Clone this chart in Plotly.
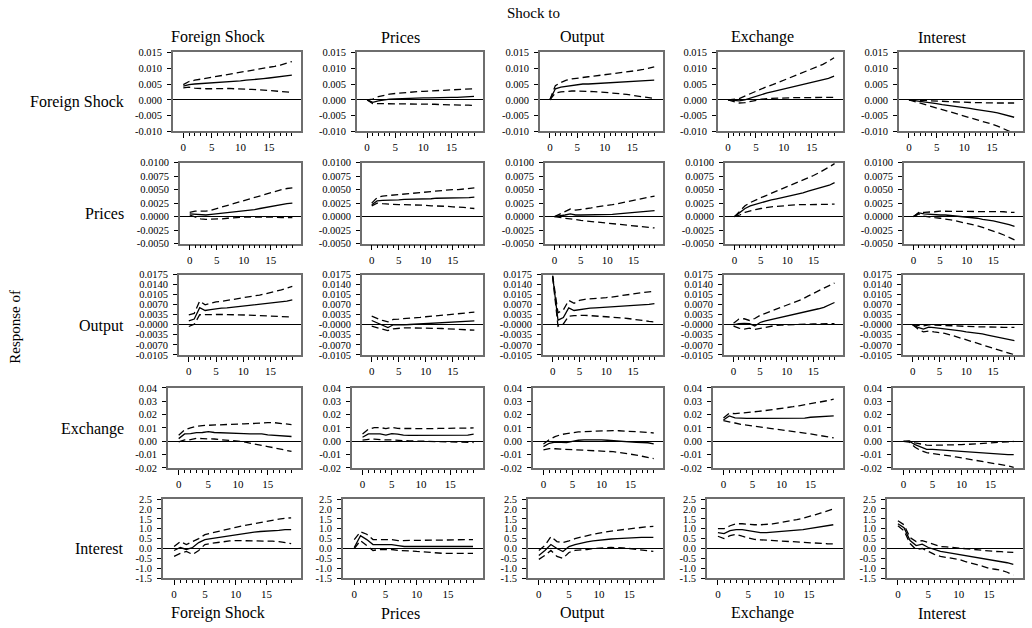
import plotly.graph_objects as go

# ---------------- data ----------------
periods = list(range(20))
shock_names = ["Foreign Shock", "Prices", "Output", "Exchange", "Interest"]
response_names = ["Foreign Shock", "Prices", "Output", "Exchange", "Interest"]

# y-axis tick labels per response row
row1_tickvals = [-0.010, -0.005, 0.000, 0.005, 0.010, 0.015]
row1_ticktext = ["-0.010", "-0.005", "0.000", "0.005", "0.010", "0.015"]
row2_tickvals = [-0.005, -0.0025, 0.0, 0.0025, 0.005, 0.0075, 0.010]
row2_ticktext = ["-0.0050", "-0.0025", "0.0000", "0.0025", "0.0050", "0.0075", "0.0100"]
row3_tickvals = [-0.0105, -0.0070, -0.0035, 0.0, 0.0035, 0.0070, 0.0105, 0.0140, 0.0175]
row3_ticktext = ["-0.0105", "-0.0070", "-0.0035", "-0.0000", "0.0035", "0.0070", "0.0105", "0.0140", "0.0175"]
row4_tickvals = [-0.02, -0.01, 0.0, 0.01, 0.02, 0.03, 0.04]
row4_ticktext = ["-0.02", "-0.01", "0.00", "0.01", "0.02", "0.03", "0.04"]
row5_tickvals = [-1.5, -1.0, -0.5, 0.0, 0.5, 1.0, 1.5, 2.0, 2.5]
row5_ticktext = ["-1.5", "-1.0", "-0.5", "0.0", "0.5", "1.0", "1.5", "2.0", "2.5"]
x_ticklabels = [0, 5, 10, 15]

# ---- Response of Foreign Shock ----
fs_fs_mid = [0.0043,0.0048,0.0050,0.0051,0.0052,0.0053,0.0055,0.0056,0.0057,0.0059,0.0060,0.0062,0.0063,0.0065,0.0067,0.0069,0.0071,0.0073,0.0075,0.0078]
fs_fs_hi = [0.0048,0.0058,0.0062,0.0065,0.0068,0.0071,0.0074,0.0077,0.0080,0.0083,0.0086,0.0089,0.0092,0.0095,0.0098,0.0102,0.0106,0.0110,0.0115,0.0121]
fs_fs_lo = [0.0038,0.0040,0.0037,0.0035,0.0035,0.0035,0.0036,0.0036,0.0036,0.0035,0.0035,0.0034,0.0033,0.0032,0.0031,0.0030,0.0029,0.0028,0.0026,0.0024]
fs_p_mid = [0.0000,-0.0008,-0.0003,0.0000,0.0002,0.0003,0.0004,0.0004,0.0005,0.0005,0.0006,0.0006,0.0007,0.0007,0.0008,0.0008,0.0008,0.0009,0.0010,0.0011]
fs_p_hi = [0.0000,0.0002,0.0010,0.0015,0.0018,0.0020,0.0022,0.0024,0.0025,0.0026,0.0027,0.0028,0.0029,0.0030,0.0031,0.0032,0.0033,0.0034,0.0034,0.0035]
fs_p_lo = [0.0000,-0.0012,-0.0012,-0.0012,-0.0012,-0.0012,-0.0012,-0.0012,-0.0013,-0.0013,-0.0013,-0.0014,-0.0014,-0.0015,-0.0015,-0.0016,-0.0016,-0.0017,-0.0017,-0.0018]
fs_y_mid = [0.0000,0.0035,0.0040,0.0043,0.0046,0.0048,0.0050,0.0050,0.0051,0.0052,0.0053,0.0054,0.0055,0.0056,0.0057,0.0058,0.0059,0.0060,0.0061,0.0062]
fs_y_hi = [0.0000,0.0045,0.0055,0.0062,0.0066,0.0069,0.0071,0.0073,0.0075,0.0077,0.0079,0.0081,0.0083,0.0085,0.0087,0.0090,0.0093,0.0096,0.0100,0.0104]
fs_y_lo = [0.0000,0.0022,0.0025,0.0027,0.0028,0.0028,0.0028,0.0027,0.0026,0.0025,0.0024,0.0023,0.0021,0.0019,0.0017,0.0015,0.0013,0.0010,0.0007,0.0004]
fs_e_mid = [0.0000,-0.0002,-0.0003,0.0000,0.0006,0.0012,0.0018,0.0022,0.0026,0.0030,0.0034,0.0038,0.0042,0.0046,0.0050,0.0054,0.0058,0.0063,0.0068,0.0075]
fs_e_hi = [0.0000,0.0001,0.0004,0.0012,0.0020,0.0028,0.0035,0.0042,0.0048,0.0055,0.0062,0.0068,0.0075,0.0082,0.0089,0.0096,0.0104,0.0112,0.0122,0.0133]
fs_e_lo = [0.0000,-0.0005,-0.0010,-0.0009,-0.0005,-0.0002,0.0002,0.0004,0.0005,0.0006,0.0006,0.0006,0.0007,0.0007,0.0007,0.0007,0.0007,0.0008,0.0008,0.0008]
fs_i_mid = [0.0000,-0.0002,-0.0004,-0.0006,-0.0009,-0.0012,-0.0015,-0.0017,-0.0019,-0.0021,-0.0024,-0.0027,-0.0030,-0.0032,-0.0035,-0.0038,-0.0041,-0.0045,-0.0049,-0.0055]
fs_i_hi = [0.0000,0.0000,-0.0001,-0.0002,-0.0003,-0.0004,-0.0005,-0.0006,-0.0006,-0.0007,-0.0008,-0.0008,-0.0009,-0.0009,-0.0010,-0.0010,-0.0010,-0.0010,-0.0010,-0.0010]
fs_i_lo = [0.0000,-0.0005,-0.0010,-0.0015,-0.0020,-0.0025,-0.0030,-0.0035,-0.0040,-0.0045,-0.0050,-0.0055,-0.0060,-0.0065,-0.0071,-0.0077,-0.0083,-0.0090,-0.0098,-0.0106]

# ---- Response of Prices ----
p_fs_mid = [0.0005,0.0004,0.0003,0.0003,0.0004,0.0005,0.0006,0.0007,0.0008,0.0010,0.0011,0.0012,0.0013,0.0015,0.0017,0.0018,0.0020,0.0022,0.0024,0.0025]
p_fs_hi = [0.0008,0.0010,0.0010,0.0010,0.0012,0.0015,0.0018,0.0021,0.0024,0.0027,0.0030,0.0033,0.0036,0.0039,0.0042,0.0045,0.0048,0.0050,0.0052,0.0053]
p_fs_lo = [0.0003,-0.0001,-0.0004,-0.0005,-0.0005,-0.0005,-0.0004,-0.0003,-0.0002,-0.0002,-0.0001,-0.0001,-0.0001,0.0000,0.0000,-0.0001,-0.0001,-0.0002,-0.0002,-0.0002]
p_p_mid = [0.0022,0.0029,0.0030,0.0030,0.0031,0.0031,0.0032,0.0032,0.0032,0.0033,0.0033,0.0033,0.0034,0.0034,0.0034,0.0034,0.0035,0.0035,0.0035,0.0036]
p_p_hi = [0.0025,0.0035,0.0038,0.0039,0.0040,0.0041,0.0042,0.0043,0.0044,0.0044,0.0045,0.0046,0.0047,0.0048,0.0049,0.0050,0.0050,0.0051,0.0052,0.0053]
p_p_lo = [0.0020,0.0025,0.0024,0.0023,0.0022,0.0022,0.0022,0.0022,0.0021,0.0021,0.0021,0.0020,0.0020,0.0019,0.0019,0.0018,0.0018,0.0017,0.0016,0.0015]
p_y_mid = [0.0000,0.0001,0.0003,0.0005,0.0003,0.0003,0.0003,0.0003,0.0003,0.0003,0.0003,0.0004,0.0005,0.0006,0.0007,0.0008,0.0009,0.0010,0.0010,0.0011]
p_y_hi = [0.0000,0.0005,0.0010,0.0014,0.0012,0.0013,0.0015,0.0016,0.0018,0.0019,0.0020,0.0022,0.0024,0.0026,0.0028,0.0030,0.0032,0.0034,0.0036,0.0038]
p_y_lo = [0.0000,-0.0002,-0.0003,-0.0004,-0.0006,-0.0007,-0.0008,-0.0009,-0.0010,-0.0011,-0.0012,-0.0013,-0.0014,-0.0015,-0.0016,-0.0017,-0.0018,-0.0019,-0.0020,-0.0021]
p_e_mid = [0.0000,0.0008,0.0015,0.0020,0.0023,0.0025,0.0028,0.0031,0.0033,0.0035,0.0037,0.0040,0.0042,0.0044,0.0047,0.0050,0.0053,0.0055,0.0058,0.0063]
p_e_hi = [0.0000,0.0011,0.0020,0.0026,0.0031,0.0035,0.0039,0.0043,0.0047,0.0051,0.0055,0.0059,0.0063,0.0067,0.0071,0.0076,0.0081,0.0086,0.0092,0.0098]
p_e_lo = [0.0000,0.0003,0.0008,0.0011,0.0013,0.0015,0.0017,0.0018,0.0019,0.0020,0.0021,0.0021,0.0022,0.0022,0.0022,0.0022,0.0023,0.0023,0.0023,0.0023]
p_i_mid = [0.0000,0.0007,0.0005,0.0004,0.0004,0.0003,0.0003,0.0002,0.0001,0.0001,0.0000,-0.0001,-0.0003,-0.0005,-0.0006,-0.0008,-0.0010,-0.0012,-0.0015,-0.0018]
p_i_hi = [0.0000,0.0008,0.0008,0.0008,0.0009,0.0010,0.0010,0.0010,0.0010,0.0010,0.0010,0.0010,0.0010,0.0010,0.0010,0.0010,0.0009,0.0009,0.0008,0.0008]
p_i_lo = [0.0000,0.0005,0.0001,-0.0001,-0.0002,-0.0003,-0.0004,-0.0006,-0.0008,-0.0010,-0.0012,-0.0014,-0.0017,-0.0020,-0.0023,-0.0026,-0.0030,-0.0034,-0.0038,-0.0043]

# ---- Response of Output ----
y_fs_mid = [0.0014,0.0020,0.0060,0.0050,0.0053,0.0056,0.0058,0.0059,0.0061,0.0063,0.0065,0.0067,0.0069,0.0071,0.0073,0.0075,0.0077,0.0080,0.0083,0.0087]
y_fs_hi = [0.0035,0.0040,0.0083,0.0070,0.0075,0.0080,0.0082,0.0085,0.0088,0.0090,0.0093,0.0096,0.0100,0.0104,0.0108,0.0112,0.0117,0.0122,0.0128,0.0134]
y_fs_lo = [-0.0006,0.0002,0.0035,0.0036,0.0036,0.0036,0.0036,0.0036,0.0035,0.0035,0.0034,0.0034,0.0033,0.0032,0.0031,0.0030,0.0029,0.0028,0.0028,0.0027]
y_p_mid = [0.0015,0.0007,-0.0003,-0.0010,0.0000,-0.0001,0.0000,0.0001,0.0002,0.0003,0.0004,0.0005,0.0007,0.0009,0.0010,0.0011,0.0012,0.0013,0.0014,0.0014]
y_p_hi = [0.0030,0.0022,0.0015,0.0010,0.0019,0.0020,0.0021,0.0023,0.0025,0.0026,0.0028,0.0030,0.0032,0.0034,0.0036,0.0037,0.0039,0.0040,0.0042,0.0044]
y_p_lo = [-0.0005,-0.0010,-0.0015,-0.0020,-0.0014,-0.0012,-0.0011,-0.0011,-0.0011,-0.0011,-0.0011,-0.0012,-0.0012,-0.0013,-0.0014,-0.0015,-0.0016,-0.0017,-0.0018,-0.0019]
y_y_mid = [0.0170,0.0016,0.0025,0.0059,0.0050,0.0053,0.0056,0.0058,0.0059,0.0060,0.0062,0.0063,0.0064,0.0065,0.0066,0.0067,0.0068,0.0069,0.0071,0.0074]
y_y_hi = [0.0172,0.0042,0.0052,0.0085,0.0075,0.0085,0.0089,0.0090,0.0091,0.0093,0.0095,0.0097,0.0100,0.0103,0.0106,0.0109,0.0111,0.0113,0.0115,0.0117]
y_y_lo = [0.0168,-0.0005,0.0003,0.0030,0.0032,0.0033,0.0033,0.0032,0.0031,0.0030,0.0029,0.0028,0.0026,0.0024,0.0022,0.0019,0.0016,0.0014,0.0012,0.0010]
y_e_mid = [0.0000,0.0004,0.0005,0.0004,-0.0004,0.0008,0.0014,0.0018,0.0022,0.0027,0.0031,0.0035,0.0038,0.0042,0.0047,0.0052,0.0056,0.0061,0.0069,0.0078]
y_e_hi = [0.0005,0.0020,0.0021,0.0015,0.0022,0.0033,0.0040,0.0047,0.0054,0.0061,0.0068,0.0075,0.0082,0.0090,0.0100,0.0110,0.0120,0.0128,0.0137,0.0146]
y_e_lo = [-0.0005,-0.0012,-0.0015,-0.0012,-0.0016,-0.0012,-0.0008,-0.0005,-0.0002,-0.0001,0.0000,0.0001,0.0001,0.0002,0.0002,0.0003,0.0003,0.0004,0.0004,0.0004]
y_i_mid = [0.0000,-0.0009,-0.0015,-0.0008,-0.0010,-0.0012,-0.0013,-0.0015,-0.0018,-0.0021,-0.0025,-0.0027,-0.0029,-0.0032,-0.0036,-0.0040,-0.0045,-0.0049,-0.0051,-0.0055]
y_i_hi = [0.0000,-0.0002,-0.0004,0.0000,-0.0001,-0.0002,-0.0003,-0.0004,-0.0005,-0.0005,-0.0006,-0.0006,-0.0007,-0.0007,-0.0008,-0.0008,-0.0009,-0.0009,-0.0009,-0.0009]
y_i_lo = [0.0000,-0.0015,-0.0025,-0.0022,-0.0025,-0.0027,-0.0030,-0.0035,-0.0041,-0.0047,-0.0053,-0.0059,-0.0065,-0.0071,-0.0077,-0.0083,-0.0089,-0.0095,-0.0100,-0.0105]

# ---- Response of Exchange ----
e_fs_mid = [0.0020,0.0055,0.0057,0.0065,0.0066,0.0072,0.0066,0.0065,0.0065,0.0065,0.0064,0.0058,0.0056,0.0055,0.0055,0.0048,0.0046,0.0045,0.0040,0.0036]
e_fs_hi = [0.0045,0.0085,0.0100,0.0112,0.0118,0.0120,0.0124,0.0128,0.0129,0.0130,0.0130,0.0131,0.0132,0.0136,0.0140,0.0140,0.0140,0.0136,0.0132,0.0125]
e_fs_lo = [-0.0005,0.0010,0.0012,0.0022,0.0020,0.0020,0.0017,0.0012,0.0010,0.0006,0.0002,-0.0005,-0.0015,-0.0022,-0.0030,-0.0040,-0.0048,-0.0056,-0.0066,-0.0076]
e_p_mid = [0.0030,0.0055,0.0056,0.0055,0.0046,0.0058,0.0054,0.0046,0.0045,0.0045,0.0045,0.0045,0.0045,0.0045,0.0045,0.0045,0.0045,0.0045,0.0046,0.0054]
e_p_hi = [0.0055,0.0090,0.0103,0.0103,0.0095,0.0104,0.0096,0.0095,0.0095,0.0095,0.0095,0.0095,0.0095,0.0096,0.0097,0.0098,0.0099,0.0100,0.0100,0.0100]
e_p_lo = [0.0008,0.0015,0.0016,0.0012,0.0010,0.0011,0.0006,0.0005,0.0003,0.0002,0.0001,0.0000,-0.0002,-0.0004,-0.0006,-0.0008,-0.0009,-0.0010,-0.0010,-0.0009]
e_y_mid = [-0.0040,-0.0015,-0.0006,-0.0005,-0.0009,0.0000,0.0008,0.0010,0.0011,0.0011,0.0011,0.0008,0.0004,0.0000,-0.0003,-0.0006,-0.0008,-0.0009,-0.0011,-0.0020]
e_y_hi = [-0.0020,0.0012,0.0035,0.0050,0.0058,0.0065,0.0070,0.0073,0.0075,0.0076,0.0078,0.0080,0.0080,0.0079,0.0077,0.0076,0.0074,0.0072,0.0067,0.0062]
e_y_lo = [-0.0065,-0.0055,-0.0056,-0.0058,-0.0060,-0.0062,-0.0063,-0.0065,-0.0067,-0.0069,-0.0071,-0.0074,-0.0078,-0.0083,-0.0088,-0.0095,-0.0103,-0.0112,-0.0121,-0.0130]
e_e_mid = [0.0160,0.0190,0.0175,0.0172,0.0172,0.0172,0.0172,0.0172,0.0172,0.0172,0.0172,0.0172,0.0172,0.0172,0.0173,0.0180,0.0182,0.0184,0.0188,0.0190]
e_e_hi = [0.0175,0.0210,0.0207,0.0210,0.0215,0.0220,0.0224,0.0229,0.0234,0.0240,0.0246,0.0252,0.0259,0.0266,0.0273,0.0280,0.0288,0.0296,0.0305,0.0316]
e_e_lo = [0.0155,0.0148,0.0137,0.0127,0.0120,0.0114,0.0109,0.0103,0.0097,0.0091,0.0086,0.0080,0.0074,0.0068,0.0061,0.0055,0.0049,0.0042,0.0034,0.0026]
e_i_mid = [0.0000,0.0000,-0.0025,-0.0045,-0.0060,-0.0060,-0.0063,-0.0068,-0.0072,-0.0075,-0.0078,-0.0080,-0.0082,-0.0085,-0.0088,-0.0092,-0.0096,-0.0100,-0.0100,-0.0100]
e_i_hi = [0.0000,0.0002,-0.0012,-0.0022,-0.0028,-0.0030,-0.0030,-0.0030,-0.0029,-0.0027,-0.0025,-0.0023,-0.0021,-0.0019,-0.0017,-0.0014,-0.0011,-0.0007,-0.0004,-0.0001]
e_i_lo = [0.0000,-0.0006,-0.0045,-0.0070,-0.0085,-0.0090,-0.0097,-0.0104,-0.0110,-0.0117,-0.0124,-0.0131,-0.0138,-0.0145,-0.0153,-0.0160,-0.0168,-0.0176,-0.0184,-0.0195]

# ---- Response of Interest ----
i_fs_mid = [-0.10,0.05,-0.05,0.05,0.30,0.45,0.50,0.55,0.60,0.65,0.70,0.75,0.80,0.83,0.86,0.87,0.88,0.92,0.95,0.95]
i_fs_hi = [0.10,0.35,0.20,0.35,0.50,0.70,0.78,0.86,0.93,1.00,1.07,1.14,1.20,1.27,1.33,1.38,1.43,1.48,1.53,1.55]
i_fs_lo = [-0.40,-0.25,-0.15,-0.30,-0.10,0.20,0.26,0.31,0.35,0.38,0.40,0.40,0.40,0.40,0.40,0.39,0.37,0.35,0.31,0.25]
i_p_mid = [0.05,0.65,0.45,0.20,0.20,0.20,0.20,0.15,0.10,0.10,0.10,0.10,0.10,0.10,0.10,0.10,0.10,0.10,0.10,0.10]
i_p_hi = [0.45,0.85,0.72,0.45,0.45,0.45,0.45,0.40,0.40,0.40,0.40,0.40,0.40,0.41,0.42,0.43,0.44,0.45,0.45,0.45]
i_p_lo = [0.00,0.40,0.15,-0.10,-0.05,-0.05,-0.05,-0.10,-0.10,-0.12,-0.15,-0.18,-0.20,-0.22,-0.24,-0.25,-0.25,-0.25,-0.25,-0.25]
i_y_mid = [-0.35,-0.10,0.20,0.00,-0.15,0.10,0.20,0.28,0.34,0.39,0.43,0.45,0.48,0.50,0.52,0.55,0.56,0.56,0.56,0.56]
i_y_hi = [-0.10,0.15,0.60,0.35,0.30,0.38,0.50,0.58,0.65,0.72,0.78,0.84,0.88,0.92,0.96,1.00,1.04,1.08,1.10,1.12]
i_y_lo = [-0.55,-0.35,-0.10,-0.40,-0.50,-0.20,-0.10,-0.08,-0.05,0.00,0.03,0.04,0.05,0.05,0.03,0.00,-0.03,-0.07,-0.10,-0.15]
i_e_mid = [0.80,0.75,0.90,0.95,0.95,0.90,0.85,0.80,0.80,0.82,0.85,0.87,0.89,0.92,0.95,1.00,1.05,1.08,1.12,1.20]
i_e_hi = [1.00,1.00,1.15,1.25,1.25,1.22,1.20,1.20,1.21,1.24,1.29,1.34,1.40,1.46,1.53,1.60,1.70,1.80,1.90,2.00]
i_e_lo = [0.62,0.50,0.65,0.72,0.62,0.52,0.46,0.44,0.42,0.40,0.37,0.35,0.33,0.31,0.29,0.27,0.26,0.25,0.24,0.23]
i_i_mid = [1.25,1.05,0.40,0.15,0.22,0.05,-0.05,-0.15,-0.20,-0.25,-0.30,-0.35,-0.40,-0.45,-0.50,-0.55,-0.60,-0.65,-0.72,-0.80]
i_i_hi = [1.40,1.20,0.55,0.35,0.40,0.30,0.18,0.10,0.08,0.05,0.03,0.00,-0.03,-0.07,-0.10,-0.15,-0.15,-0.16,-0.18,-0.20]
i_i_lo = [1.15,0.90,0.25,-0.05,0.00,-0.15,-0.30,-0.40,-0.45,-0.50,-0.55,-0.65,-0.75,-0.82,-0.90,-1.00,-1.05,-1.10,-1.20,-1.35]

panels = [
    [(fs_fs_mid, fs_fs_lo, fs_fs_hi), (fs_p_mid, fs_p_lo, fs_p_hi), (fs_y_mid, fs_y_lo, fs_y_hi), (fs_e_mid, fs_e_lo, fs_e_hi), (fs_i_mid, fs_i_lo, fs_i_hi)],
    [(p_fs_mid, p_fs_lo, p_fs_hi), (p_p_mid, p_p_lo, p_p_hi), (p_y_mid, p_y_lo, p_y_hi), (p_e_mid, p_e_lo, p_e_hi), (p_i_mid, p_i_lo, p_i_hi)],
    [(y_fs_mid, y_fs_lo, y_fs_hi), (y_p_mid, y_p_lo, y_p_hi), (y_y_mid, y_y_lo, y_y_hi), (y_e_mid, y_e_lo, y_e_hi), (y_i_mid, y_i_lo, y_i_hi)],
    [(e_fs_mid, e_fs_lo, e_fs_hi), (e_p_mid, e_p_lo, e_p_hi), (e_y_mid, e_y_lo, e_y_hi), (e_e_mid, e_e_lo, e_e_hi), (e_i_mid, e_i_lo, e_i_hi)],
    [(i_fs_mid, i_fs_lo, i_fs_hi), (i_p_mid, i_p_lo, i_p_hi), (i_y_mid, i_y_lo, i_y_hi), (i_e_mid, i_e_lo, i_e_hi), (i_i_mid, i_i_lo, i_i_hi)],
]
row_ticks = [
    (row1_tickvals, row1_ticktext),
    (row2_tickvals, row2_ticktext),
    (row3_tickvals, row3_ticktext),
    (row4_tickvals, row4_ticktext),
    (row5_tickvals, row5_ticktext),
]

# ---------------- layout geometry (pixels) ----------------
W, H = 1032, 628
FONT = "Liberation Serif"


def py(target):
    """Vertical pixel position, corrected for the observed render offset/scale."""
    return (target - 5.7) / 0.981


col_right = [301, 483, 663, 843, 1023]
row_left = [
    [173, 357, 540, 718, 899],
    [180, 362, 545, 725, 904],
    [179, 362, 543, 724, 903],
    [168, 352, 533, 713, 893],
    [163, 343, 528, 707, 887],
]
row_top = [53, 163, 275, 388, 499]
row_bot = [132, 244, 355, 468, 578]

fig = go.Figure()
layout_axes = {}
minor_vals = [v for v in range(20) if v % 5 != 0]

for r in range(5):
    tv, tt = row_ticks[r]
    for c in range(5):
        k = r * 5 + c + 1
        xs = "" if k == 1 else str(k)
        mid, lo, hi = panels[r][c]
        for series, dash in ((lo, "7px,4px"), (hi, "7px,4px"), (mid, "solid")):
            fig.add_trace(go.Scatter(
                x=periods, y=series, mode="lines",
                line=dict(color="black", width=1.3, dash=dash),
                xaxis="x" + xs, yaxis="y" + xs, showlegend=False, hoverinfo="skip",
            ))
        layout_axes["xaxis" + xs] = dict(
            domain=[row_left[r][c] / W, col_right[c] / W],
            anchor="y" + xs, range=[-1.8, 20.6],
            tickvals=x_ticklabels, ticks="outside", ticklen=5, tickwidth=1, tickcolor="black",
            minor=dict(tickvals=minor_vals, ticks="outside", ticklen=3, tickwidth=1, tickcolor="black", showgrid=False),
            showline=True, mirror=True, linecolor="#6e6e6e", linewidth=1.6,
            showgrid=False, zeroline=False,
            tickfont=dict(family=FONT, size=11, color="black"),
            fixedrange=True,
        )
        layout_axes["yaxis" + xs] = dict(
            domain=[1 - py(row_bot[r]) / H, 1 - py(row_top[r]) / H],
            anchor="x" + xs, range=[tv[0], tv[-1]],
            tickvals=tv, ticktext=tt, ticks="outside", ticklen=4, tickwidth=1, tickcolor="black",
            showline=True, mirror=True, linecolor="#6e6e6e", linewidth=1.6,
            showgrid=False, zeroline=True, zerolinecolor="black", zerolinewidth=1,
            tickfont=dict(family=FONT, size=10.5, color="black"),
            ticklabelstandoff=3,
            fixedrange=True,
        )

annotations = []
col_title_x = [218, 400, 582, 762, 942]
for c, name in enumerate(shock_names):
    for ypix in (38, 613):
        annotations.append(dict(
            text=name, x=col_title_x[c] / W, y=1 - py(ypix) / H, xref="paper", yref="paper",
            xanchor="center", yanchor="middle", showarrow=False,
            font=dict(family=FONT, size=16, color="black"),
        ))
row_label_y = [103, 214, 326, 429, 548]
for r, name in enumerate(response_names):
    annotations.append(dict(
        text=name, x=126 / W, y=1 - py(row_label_y[r]) / H, xref="paper", yref="paper",
        xanchor="right", yanchor="middle", showarrow=False,
        font=dict(family=FONT, size=16, color="black"),
    ))
annotations.append(dict(
    text="Shock to", x=533 / W, y=1 - py(14) / H, xref="paper", yref="paper",
    xanchor="center", yanchor="middle", showarrow=False,
    font=dict(family=FONT, size=15, color="black"),
))
annotations.append(dict(
    text="Response of", x=15 / W, y=1 - py(327) / H, xref="paper", yref="paper",
    xanchor="center", yanchor="middle", showarrow=False, textangle=-90,
    font=dict(family=FONT, size=15, color="black"),
))

fig.update_layout(
    width=W, height=H,
    margin=dict(l=0, r=0, t=0, b=0),
    paper_bgcolor="white", plot_bgcolor="white",
    font=dict(family=FONT, size=11, color="black"),
    showlegend=False,
    annotations=annotations,
    **layout_axes,
)

page_css = (
    "var s=document.createElement('style');"
    "s.innerHTML='html,body{margin:0!important;padding:0!important;overflow:hidden!important;}';"
    "document.head.appendChild(s);"
)

fig.write_html(
    "out.html",
    config={"displayModeBar": False},
    post_script=page_css,
)
